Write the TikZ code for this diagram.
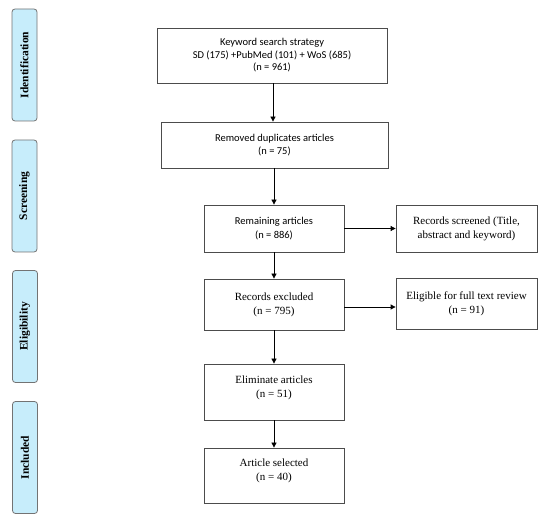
\documentclass[tikz,border=0pt]{standalone}
\usepackage{fontspec}
\setmainfont{Liberation Serif}
\newfontfamily\calib{Carlito}
\usetikzlibrary{arrows.meta}
\begin{document}
\begin{tikzpicture}[x=1pt,y=-1pt,
  box/.style={draw=black!70, line width=0.8pt, rectangle, inner sep=0pt, align=center, font=\fontsize{11}{14}\selectfont},
  sbox/.style={box, font=\calib\fontsize{10.5}{12.5}\selectfont},
  phase/.style={draw=black!55, line width=0.8pt, fill=cyan!22!white, rounded corners=3pt, minimum width=25pt, minimum height=112pt, inner sep=0pt},
  plabel/.style={rotate=90, font=\bfseries\fontsize{11.5}{14}\selectfont},
  arr/.style={-{Triangle[length=5pt,width=5pt]}, line width=0.8pt, black}]
\useasboundingbox (0,0) rectangle (550,524);

% phase labels
\node[phase] (p1) at (24.5,65) {};
\node[plabel] (t1) at (p1.center) {Identification};
\node[phase] (p2) at (24.5,196) {};
\node[plabel] (t2) at (p2.center) {Screening};
\node[phase] (p3) at (25,326.5) {};
\node[plabel] (t3) at (p3.center) {Eligibility};
\node[phase] (p4) at (25,457.5) {};
\node[plabel] (t4) at (p4.center) {Included};

% boxes
\node[sbox, minimum width=230pt, minimum height=55pt] (b1) at (272,55.5)
  {Keyword search strategy\\SD (175) +PubMed (101) + WoS (685)\\(n = 961)};
\node[sbox, minimum width=227pt, minimum height=46pt] (b2) at (274.5,145)
  {Removed duplicates articles\\(n = 75)};
\node[sbox, font=\calib\fontsize{10.5}{14}\selectfont, minimum width=140pt, minimum height=47pt] (b3) at (274,228.5)
  {Remaining articles\\(n = 886)};
\node[box, minimum width=141pt, minimum height=47pt] (b4) at (466.5,228.5)
  {Records screened (Title,\\abstract and keyword)};
\node[box, minimum width=140pt, minimum height=51pt] (b5) at (274,304.5)
  {Records excluded\\(n = 795)};
\node[box, minimum width=141pt, minimum height=51pt] (b6) at (466.5,303.5)
  {Eligible for full text review\\(n = 91)};
\node[box, minimum width=140pt, minimum height=56pt] (b7) at (274,392)
  {Eliminate articles\\(n = 51)\\[-3pt]};
\node[box, minimum width=140pt, minimum height=55pt] (b8) at (274,475.5)
  {Article selected\\(n = 40)\\[-3pt]};

% arrows
\draw[arr] (b1.south -| 273,0) -- (b2.north -| 273,0);
\draw[arr] (b2.south -| 274,0) -- (b3.north);
\draw[arr] (b3.south) -- (b5.north);
\draw[arr] (b5.south) -- (b7.north);
\draw[arr] (b7.south) -- (b8.north);
\draw[arr] (b3.east) -- (b4.west);
\draw[arr] (b5.east |- 0,307) -- (b6.west |- 0,307);
\end{tikzpicture}
\end{document}
